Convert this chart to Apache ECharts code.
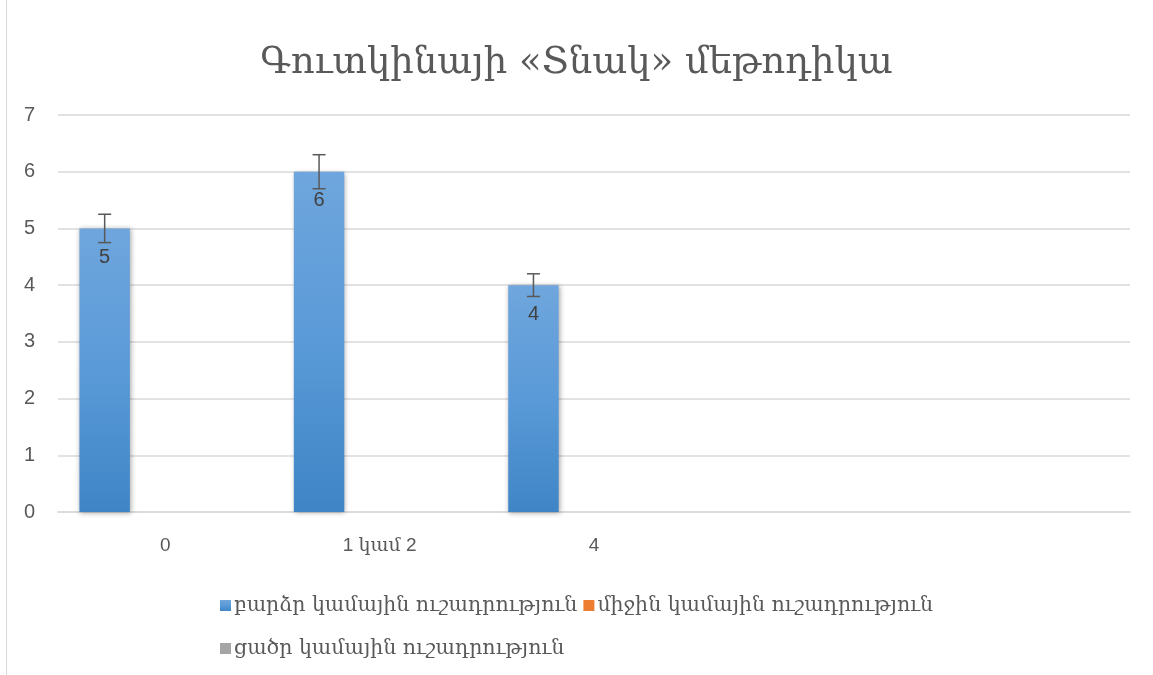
<!DOCTYPE html>
<html><head><meta charset="utf-8">
<script src="https://cdn.jsdelivr.net/npm/echarts@6/dist/echarts.min.js"></script>
<style>html,body{margin:0;padding:0;background:#fff}#c{width:1153px;height:675px}</style>
</head><body><div id="c"></div>
<script>
const titleText = 'Գուտկինայի «Տնակ» մեթոդիկա';
const categories = ['0', '1 կամ 2', '4', '', ''];
const seriesNames = ['բարձր կամային ուշադրություն', 'միջին կամային ուշադրություն', 'ցածր կամային ուշադրություն'];
const highValues = [5, 6, 4, null, null];
const midValues = [null, null, null, null, null];
const lowValues = [null, null, null, null, null];
const highErrors = [0.25, 0.3, 0.2, null, null];
const yTicks = {min: 0, max: 7, interval: 1};

const serif = '"DejaVu Serif", serif';
const sans = '"Liberation Sans", "DejaVu Sans", sans-serif';
const mixed = '"Liberation Sans", "DejaVu Serif", sans-serif';
const chart = echarts.init(document.getElementById('c'));
const barCatGap = 0.2, barGap = 0.2, nBars = 3;
const legendText = {fontFamily: serif, fontSize: 20.5, color: '#595959', padding: [0, 0, 0, -2]};

chart.setOption({
  animation: false,
  backgroundColor: '#fff',
  title: {text: titleText, left: 'center', top: 40,
    textStyle: {fontFamily: serif, fontSize: 37, fontWeight: 'normal', color: '#595959'}},
  graphic: [{type: 'line', shape: {x1: 6.5, y1: 0, x2: 6.5, y2: 675}, style: {stroke: '#d9d9d9', lineWidth: 1}}],
  grid: {left: 58, right: 23, top: 115, bottom: 163},
  legend: [
    {left: 215, top: 590, itemGap: 6, itemWidth: 11, itemHeight: 11, icon: 'rect',
      data: seriesNames.slice(0, 2), textStyle: legendText, itemStyle: {borderWidth: 0}},
    {left: 215, top: 633, itemGap: 6, itemWidth: 11, itemHeight: 11, icon: 'rect',
      data: seriesNames.slice(2), textStyle: legendText, itemStyle: {borderWidth: 0}}
  ],
  xAxis: {type: 'category', data: categories,
    axisLine: {lineStyle: {color: '#d9d9d9', width: 1.5}}, axisTick: {show: false},
    axisLabel: {fontFamily: mixed, fontSize: 19, color: '#595959', margin: 24, interval: 0}},
  yAxis: {type: 'value', min: yTicks.min, max: yTicks.max, interval: yTicks.interval,
    axisLine: {show: false}, axisTick: {show: false},
    splitLine: {lineStyle: {color: '#d9d9d9', width: 1.5}},
    axisLabel: {fontFamily: sans, fontSize: 20, color: '#595959', margin: 23}},
  series: [
    {name: seriesNames[0], type: 'bar', data: highValues, barGap: (barGap*100)+'%', barCategoryGap: (barCatGap*100)+'%',
      itemStyle: {color: new echarts.graphic.LinearGradient(0, 0, 0, 1, [{offset: 0, color: '#6fa6dd'}, {offset: 0.5, color: '#5a9ad8'}, {offset: 1, color: '#3f85c6'}]),
        shadowColor: 'rgba(0,0,0,0.35)', shadowBlur: 5, shadowOffsetX: 1, shadowOffsetY: 1},
      label: {show: true, position: 'insideTop', distance: 19, fontFamily: sans, fontSize: 20, color: '#404040'}},
    {name: seriesNames[1], type: 'bar', data: midValues, itemStyle: {color: '#ED7D31'}},
    {name: seriesNames[2], type: 'bar', data: lowValues, itemStyle: {color: '#A5A5A5'}},
    {type: 'custom', silent: true, z: 10,
      data: highValues.map((v, i) => [i, v, highErrors[i]]).filter(d => d[1] != null),
      renderItem: function (params, api) {
        const i = api.value(0), v = api.value(1), e = api.value(2);
        const band = api.size([1, 0])[0];
        const used = band * (1 - barCatGap);
        const bw = used / (nBars + (nBars - 1) * barGap);
        const off = -used / 2 + bw / 2;
        const top = api.coord([i, v + e]), bot = api.coord([i, v - e]);
        const x = top[0] + off, cap = 6.5;
        const st = {stroke: '#595959', lineWidth: 1.5};
        return {type: 'group', children: [
          {type: 'line', shape: {x1: x, y1: top[1], x2: x, y2: bot[1]}, style: st},
          {type: 'line', shape: {x1: x - cap, y1: top[1], x2: x + cap, y2: top[1]}, style: st},
          {type: 'line', shape: {x1: x - cap, y1: bot[1], x2: x + cap, y2: bot[1]}, style: st}
        ]};
      }}
  ]
});
</script></body></html>
